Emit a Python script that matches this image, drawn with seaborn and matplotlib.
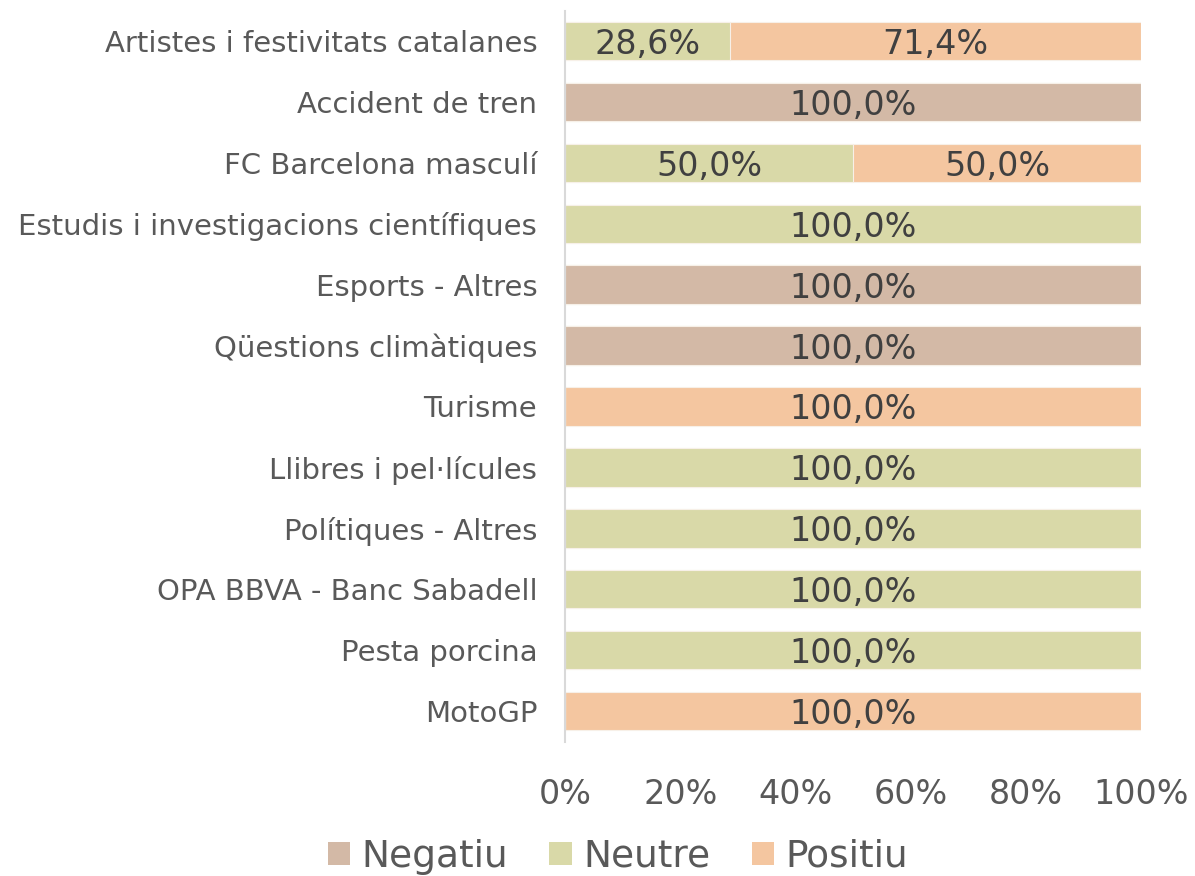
import seaborn as sns
import matplotlib.pyplot as plt
import pandas as pd
from matplotlib.patches import Patch

# data (top to bottom)
categories = ['Artistes i festivitats catalanes', 'Accident de tren', 'FC Barcelona masculí',
              'Estudis i investigacions científiques', 'Esports - Altres', 'Qüestions climàtiques',
              'Turisme', 'Llibres i pel·lícules', 'Polítiques - Altres', 'OPA BBVA - Banc Sabadell',
              'Pesta porcina', 'MotoGP']
negatiu = [0, 100, 0, 0, 100, 100, 0, 0, 0, 0, 0, 0]
neutre = [28.6, 0, 50, 100, 0, 0, 0, 100, 100, 100, 100, 0]
positiu = [71.4, 0, 50, 0, 0, 0, 100, 0, 0, 0, 0, 100]

series = ['Negatiu', 'Neutre', 'Positiu']
colors = {'Negatiu': '#D3B9A6', 'Neutre': '#D9D9A8', 'Positiu': '#F4C6A0'}

sns.set_style("white")
plt.rcParams['font.family'] = ['DejaVu Sans']

df = pd.DataFrame({'cat': categories, 'Negatiu': negatiu, 'Neutre': neutre, 'Positiu': positiu})
df['c1'] = df['Negatiu']
df['c2'] = df['Negatiu'] + df['Neutre']
df['c3'] = df['c2'] + df['Positiu']

fig = plt.figure(figsize=(11.95, 8.76), dpi=100)
ax = fig.add_axes([0.4728, 0.1535, 0.482, 0.8345])

# stacked bars drawn as overlapping cumulative totals
for col, name in [('c3', 'Positiu'), ('c2', 'Neutre'), ('c1', 'Negatiu')]:
    sns.barplot(data=df, x=col, y='cat', order=categories, color=colors[name],
                width=0.63, saturation=1, ax=ax, orient='h', linewidth=0.8,
                edgecolor='#F7F0E8')

# segment labels
for i, row in df.iterrows():
    left = 0
    for s in series:
        v = row[s]
        if v > 0:
            ax.text(left + v / 2, i, f"{v:.1f}%".replace('.', ','), ha='center',
                    va='center_baseline', fontsize=24, color='#404040')
        left += v

ax.set_xlim(0, 100)
ax.set_ylim(len(categories) - 0.5, -0.5)
ax.set_xticks(range(0, 101, 20))
ax.set_xticklabels([f"{t}%" for t in range(0, 101, 20)])
ax.set(xlabel='', ylabel='')
ax.tick_params(axis='x', length=0, pad=26, labelsize=24, labelcolor='#595959')
ax.tick_params(axis='y', length=0, pad=20, labelsize=21, labelcolor='#595959')
sns.despine(ax=ax, left=False, bottom=True, top=True, right=True)
ax.spines['left'].set_color('#D9D9D9')
ax.spines['left'].set_linewidth(1.5)

handles = [Patch(facecolor=colors[s], edgecolor='none', label=s) for s in series]
fig.legend(handles=handles, loc='center', bbox_to_anchor=(0.517, 0.022), ncol=3,
           frameon=False, fontsize=27, labelcolor='#595959', handlelength=0.6,
           handleheight=0.6, handletextpad=0.3, columnspacing=1.1)

fig.savefig('out.png', dpi=100)
